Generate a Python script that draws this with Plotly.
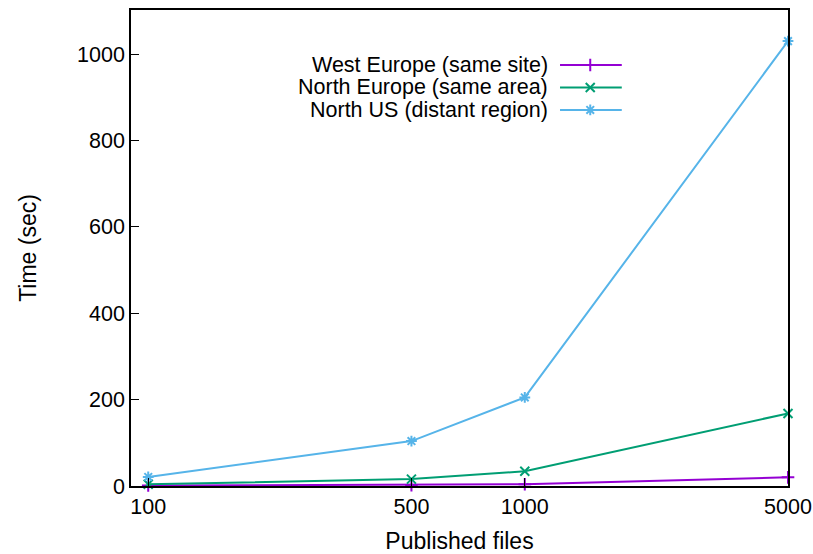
import plotly.graph_objects as go
import math

files = [100, 500, 1000, 5000]
west_europe = [1, 2, 4, 20]
north_europe = [4, 16, 34, 168]
north_us = [21, 104, 205, 1030]

series_names = ["West Europe (same site)", "North Europe (same area)", "North US (distant region)"]
series_values = [west_europe, north_europe, north_us]
colors = ["#9400d3", "#009e73", "#56b4e9"]
symbols = ["cross-thin", "x-thin", "asterisk"]

x_ticks = [100, 500, 1000, 5000]
y_ticks = [0, 200, 400, 600, 800, 1000]

FONT = "Liberation Sans, Arial, sans-serif"
TICK_FS = 21.5
TITLE_FS = 23
KEY_FS = 21.5

fig = go.Figure()
for name, vals, c, s in zip(series_names, series_values, colors, symbols):
    fig.add_trace(go.Scatter(
        x=files, y=vals, mode="lines+markers", name=name,
        line=dict(color=c, width=2),
        marker=dict(symbol=s, size=9, color=c, line=dict(color=c, width=2)),
        showlegend=False, cliponaxis=False,
    ))

# gnuplot-style key: right-aligned text, sample line to the right
key_rows = [0.8845, 0.8372, 0.790]
for name, c, s, ry in zip(series_names, colors, symbols, key_rows):
    fig.add_trace(go.Scatter(
        x=[0.653, 0.747], y=[ry, ry], mode="lines", xaxis="x2", yaxis="y2",
        line=dict(color=c, width=2), showlegend=False, hoverinfo="skip"))
    fig.add_trace(go.Scatter(
        x=[0.699], y=[ry], mode="markers", xaxis="x2", yaxis="y2",
        marker=dict(symbol=s, size=9, color=c, line=dict(color=c, width=2)),
        showlegend=False, hoverinfo="skip"))
    fig.add_annotation(x=0.637, y=ry, xref="x2", yref="y2", text=name,
                       showarrow=False, xanchor="right", yanchor="middle",
                       font=dict(family=FONT, size=KEY_FS, color="black"))

fig.update_layout(
    width=813, height=554,
    margin=dict(l=131, r=25, t=10, b=68, autoexpand=False),
    paper_bgcolor="white", plot_bgcolor="white",
    font=dict(family=FONT, size=TICK_FS, color="black"),
    xaxis=dict(
        type="log", range=[math.log10(90), math.log10(5000)],
        tickvals=x_ticks, ticktext=[str(v) for v in x_ticks],
        ticks="inside", ticklen=8, tickcolor="black", tickwidth=1,
        showline=True, linecolor="black", linewidth=1.5, mirror=True,
        showgrid=False, zeroline=False, automargin=False,
        title=dict(text="Published files", font=dict(size=TITLE_FS), standoff=15),
        tickfont=dict(size=TICK_FS),
    ),
    yaxis=dict(
        range=[0, 1102], tickvals=y_ticks,
        ticks="inside", ticklen=8, tickcolor="black", tickwidth=1,
        showline=True, linecolor="black", linewidth=1.5, mirror=True,
        showgrid=False, zeroline=False, automargin=False,
        title=dict(text="Time (sec)", font=dict(size=TITLE_FS), standoff=34),
        tickfont=dict(size=TICK_FS),
    ),
    xaxis2=dict(overlaying="x", range=[0, 1], visible=False, fixedrange=True),
    yaxis2=dict(overlaying="y", range=[0, 1], visible=False, fixedrange=True),
)

# remove the default page margin so the 813x554 figure fills the window exactly
fig.write_html(
    "out.html",
    config={"displayModeBar": False},
    post_script="document.body.style.margin='0';document.body.style.overflow='hidden';",
)
